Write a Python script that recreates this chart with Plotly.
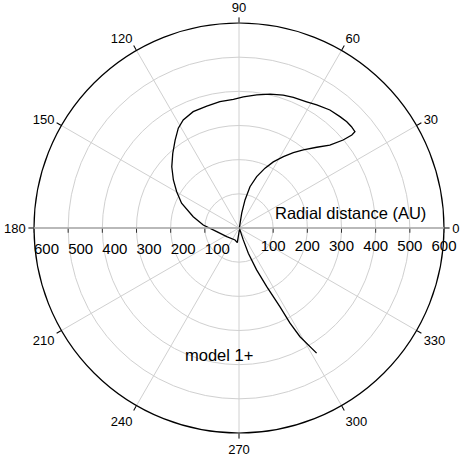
import plotly.graph_objects as go

# trajectory: radial distance (AU) and angle (deg)
r_au = [431, 365, 316, 260, 190, 133, 79, 37, 6, 1,
        44, 84, 125, 159, 191, 218, 246, 272, 296, 328, 360, 399, 428, 441,
        443, 443, 440, 436, 426, 419, 414, 410, 402, 393, 384, 377, 374, 369,
        366, 356, 342, 318, 292, 266, 238, 211, 183, 138, 105, 66, 44, 37, 43, 6]
theta_deg = [301.8, 299.3, 298.2, 297.5, 295.3, 292.8, 290.2, 289.7, 297, 0,
             79.6, 77.9, 75.1, 71.0, 66.5, 62.6, 58.1, 54.2, 50.5, 46.1, 42.4, 40.2, 39.5, 39.7,
             42.0, 44.6, 47.8, 52.4, 57.7, 61.8, 67.4, 71.6, 76.9, 82.4, 88.1, 92.5, 98.6, 104.8,
             111.5, 117.3, 121.3, 126.0, 131.6, 137.7, 143.8, 149.8, 156.7, 166.1, 175.2, 189.4, 215.3, 251.6, 263.4, 280]

radial_ticks = [100, 200, 300, 400, 500, 600]
angle_ticks = list(range(0, 360, 30))

FONT = 'Liberation Sans, Arial, sans-serif'

fig = go.Figure()
fig.add_trace(go.Scatterpolar(
	r=r_au, theta=theta_deg, mode='lines',
	line=dict(color='black', width=1.3),
	subplot='polar', showlegend=False, hoverinfo='skip'
))
# empty trace so the second (left-hand) radial axis gets drawn
fig.add_trace(go.Scatterpolar(r=[], theta=[], subplot='polar2', showlegend=False))

radial_common = dict(
	range=[0, 600],
	tickvals=radial_ticks,
	ticktext=[str(v) for v in radial_ticks],
	ticks='outside', ticklen=4, tickcolor='#333',
	showline=True, linecolor='#aaaaaa', linewidth=1.5,
	tickfont=dict(size=15, color='black', family=FONT),
)

fig.update_layout(
	width=464, height=459,
	paper_bgcolor='white',
	margin=dict(l=34, r=20, t=23, b=26),
	font=dict(family=FONT, color='black'),
	polar=dict(
		domain=dict(x=[0, 1], y=[0, 1]),
		bgcolor='white',
		radialaxis=dict(angle=0, side='clockwise', showgrid=True, tickangle=0,
						gridcolor='#d0d0d0', gridwidth=1, **radial_common),
		angularaxis=dict(
			direction='counterclockwise', rotation=0,
			tickvals=angle_ticks, ticktext=[str(a) for a in angle_ticks],
			showline=True, linecolor='black', linewidth=1.2,
			ticks='outside', ticklen=5, tickcolor='black',
			gridcolor='#d0d0d0', gridwidth=1,
			tickfont=dict(size=13, color='black', family=FONT),
		),
	),
	polar2=dict(
		domain=dict(x=[0, 1], y=[0, 1]),
		bgcolor='rgba(0,0,0,0)',
		radialaxis=dict(angle=180, side='counterclockwise', showgrid=False, tickangle=180,
						**radial_common),
		angularaxis=dict(visible=False, direction='counterclockwise', rotation=0),
	),
	annotations=[
		dict(text='Radial distance (AU)', x=0.771, y=0.537, xref='paper', yref='paper',
			 xanchor='center', yanchor='middle',
			 showarrow=False, font=dict(size=16.5, family=FONT, color='black')),
		dict(text='model 1+', x=0.451, y=0.19, xref='paper', yref='paper',
			 xanchor='center', yanchor='middle',
			 showarrow=False, font=dict(size=16.5, family=FONT, color='black')),
	],
)

# drop the default 8px body margin so the angular labels at the edges aren't clipped
fig.write_html("out.html", config={'displayModeBar': False},
			   post_script="document.body.style.margin='0';")
